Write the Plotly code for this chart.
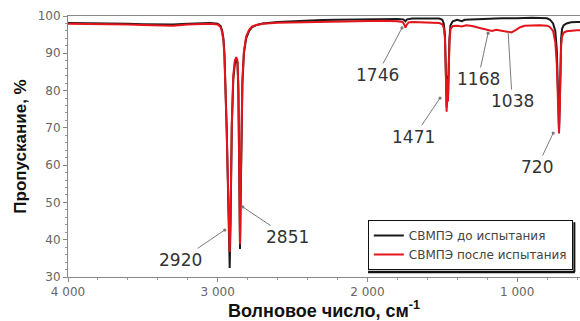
import plotly.graph_objects as go

# ---------------- data ----------------
wn_before = [4000, 3900, 3800, 3700, 3600, 3500, 3400, 3300, 3200, 3100, 3050, 3000, 2980, 2970, 2962,
             2955, 2948, 2940, 2932, 2926, 2920, 2914, 2906, 2896, 2886, 2876, 2868, 2862, 2858, 2854,
             2851, 2847, 2842, 2835, 2825, 2810, 2790, 2770, 2740, 2700, 2600, 2500, 2400, 2300, 2200,
             2100, 2000, 1900, 1800, 1760, 1746, 1735, 1700, 1600, 1520, 1500, 1490, 1482, 1476, 1473,
             1471, 1468, 1465, 1462, 1458, 1452, 1445, 1430, 1400, 1370, 1350, 1300, 1250, 1200, 1100,
             1000, 900, 800, 780, 760, 745, 735, 728, 724, 720, 716, 712, 706, 700, 690, 670, 640, 600, 580]
t_before = [98.1, 98.1, 98.0, 98.0, 97.9, 97.8, 97.7, 97.7, 97.9, 98.1, 98.1, 97.9, 97.3, 96.0, 94.0,
            90.0, 83.0, 70.0, 55.0, 42.0, 32.4, 45.0, 70.0, 83.0, 87.0, 88.3, 87.5, 80.0, 65.0, 50.0,
            37.5, 50.0, 68.0, 82.0, 90.0, 94.0, 96.0, 97.0, 97.6, 98.0, 98.4, 98.6, 98.8, 98.9, 99.0,
            99.1, 99.1, 99.2, 99.2, 99.1, 98.6, 99.1, 99.3, 99.3, 99.3, 99.0, 98.0, 95.0, 88.0, 80.0,
            75.5, 80.0, 84.0, 78.0, 86.0, 94.0, 97.5, 98.6, 99.0, 98.6, 99.0, 99.1, 99.2, 99.3, 99.4,
            99.4, 99.5, 99.4, 99.0, 98.0, 96.0, 91.0, 80.0, 72.0, 69.5, 75.0, 88.0, 94.0, 96.5, 97.5,
            98.0, 98.3, 98.4, 98.4]

wn_after = [4000, 3900, 3800, 3700, 3600, 3500, 3400, 3300, 3200, 3100, 3050, 3000, 2980, 2970, 2962,
            2955, 2948, 2940, 2932, 2926, 2920, 2914, 2906, 2896, 2886, 2876, 2868, 2862, 2858, 2854,
            2851, 2847, 2842, 2835, 2825, 2810, 2790, 2770, 2740, 2700, 2600, 2500, 2400, 2300, 2200,
            2100, 2000, 1900, 1800, 1765, 1755, 1746, 1738, 1725, 1700, 1600, 1520, 1500, 1490, 1482,
            1476, 1473, 1471, 1468, 1465, 1462, 1458, 1452, 1445, 1430, 1400, 1370, 1340, 1300, 1250,
            1200, 1168, 1140, 1100, 1060, 1038, 1010, 980, 950, 900, 850, 800, 780, 760, 745, 735, 728,
            724, 720, 716, 712, 706, 700, 690, 670, 640, 600, 580]
t_after = [97.9, 97.9, 97.8, 97.8, 97.7, 97.6, 97.4, 97.4, 97.7, 97.9, 97.9, 97.7, 97.0, 95.5, 93.5,
           89.0, 82.0, 69.0, 56.0, 45.0, 36.7, 47.0, 71.0, 84.0, 88.0, 89.0, 88.0, 81.0, 66.0, 52.0,
           38.8, 52.0, 69.0, 83.0, 90.5, 94.5, 96.3, 97.2, 97.6, 97.9, 98.2, 98.3, 98.4, 98.5, 98.6,
           98.7, 98.7, 98.7, 98.6, 98.4, 97.8, 96.9, 97.6, 98.3, 98.4, 98.3, 98.1, 97.8, 96.8, 94.0,
           87.0, 79.0, 74.3, 79.0, 83.0, 77.0, 85.0, 93.0, 96.5, 97.3, 97.4, 97.2, 97.5, 97.3, 96.8,
           96.4, 96.0, 96.3, 96.1, 95.8, 95.6, 96.2, 97.0, 97.4, 97.5, 97.5, 97.4, 97.0, 96.0, 93.0, 87.0, 77.0,
           70.5, 68.5, 74.0, 86.0, 92.0, 94.5, 95.5, 95.9, 96.1, 96.2, 96.2]

series_names = ["СВМПЭ до испытания", "СВМПЭ после испытания"]

x_tickvals = [4000, 3000, 2000, 1000]
x_ticktext = ["4 000", "3 000", "2 000", "1 000"]
y_tickvals = [30, 40, 50, 60, 70, 80, 90, 100]

# peak labels: text, arrow tip (x, y), label position (x, y)
peak_labels = ["2920", "2851", "1746", "1471", "1168", "1038", "720"]
peak_tip_x = [2953, 2833, 1769, 1515, 1194, 1060, 759]
peak_tip_y = [42.6, 48.8, 96.8, 78.0, 95.4, 95.7, 68.6]
label_x = [3247, 2532, 1936, 1689, 1261, 1033, 866]
label_y = [34.6, 40.7, 84.2, 67.6, 83.1, 77.2, 59.5]
label_head = [6, 6, 6, 6, 6, 0, 6]

# ---------------- figure ----------------
fig = go.Figure()
fig.add_trace(go.Scatter(x=wn_before, y=t_before, mode="lines", name=series_names[0],
                         line=dict(color="#1a1a1a", width=2)))
fig.add_trace(go.Scatter(x=wn_after, y=t_after, mode="lines", name=series_names[1],
                         line=dict(color="#e3141b", width=2)))

for txt, tx, ty, lx, ly, hd in zip(peak_labels, peak_tip_x, peak_tip_y, label_x, label_y, label_head):
    fig.add_annotation(x=tx, y=ty, ax=lx, ay=ly, xref="x", yref="y", axref="x", ayref="y",
                       text=txt, showarrow=True, arrowhead=hd, arrowsize=0.8, arrowwidth=1,
                       arrowcolor="#7a7a7a", standoff=0,
                       font=dict(family="DejaVu Sans", size=17, color="#333333"))

# legend shadow (thick bottom/right edge, as in the reference)
fig.add_shape(type="line", xref="paper", yref="paper", x0=0.586, x1=0.990, y0=0.019, y1=0.019,
              line=dict(color="#111111", width=2.5))
fig.add_shape(type="line", xref="paper", yref="paper", x0=0.989, x1=0.989, y0=0.019, y1=0.21,
              line=dict(color="#111111", width=2))

fig.update_layout(
    width=580, height=321,
    margin=dict(l=68, r=0, t=16, b=44),
    paper_bgcolor="white", plot_bgcolor="white",
    showlegend=True,
    legend=dict(x=0.986, y=0.027, xanchor="right", yanchor="bottom",
                bgcolor="white", bordercolor="#111111", borderwidth=1,
                font=dict(family="DejaVu Sans", size=12, color="#444444"),
                tracegroupgap=0, itemwidth=30),
    xaxis=dict(range=[4000, 580], tickvals=x_tickvals, ticktext=x_ticktext,
               showgrid=False, zeroline=False, showline=True, linecolor="#888888", linewidth=1,
               mirror=True, ticks="outside", ticklen=4, tickcolor="#888888",
               minor=dict(dtick=200, ticks="outside", ticklen=2, tickcolor="#999999"),
               tickfont=dict(family="DejaVu Sans", size=12, color="#666666"),
               title=dict(text="Волновое число, см<sup>-1</sup>", standoff=0,
                          font=dict(family="Liberation Sans", size=18, color="#111111", weight="bold"))),
    yaxis=dict(range=[30, 100], tickvals=y_tickvals,
               showgrid=False, zeroline=False, showline=True, linecolor="#888888", linewidth=1,
               ticks="outside", ticklen=4, tickcolor="#888888",
               minor=dict(dtick=2, ticks="outside", ticklen=2, tickcolor="#999999"),
               tickfont=dict(family="DejaVu Sans", size=12, color="#666666"),
               title=dict(text="Пропускание, %", standoff=6,
                          font=dict(family="Liberation Sans", size=17, color="#111111", weight="bold"))),
)

fig.write_html("out.html", config={"displayModeBar": False},
               post_script="document.body.style.margin='0';")
